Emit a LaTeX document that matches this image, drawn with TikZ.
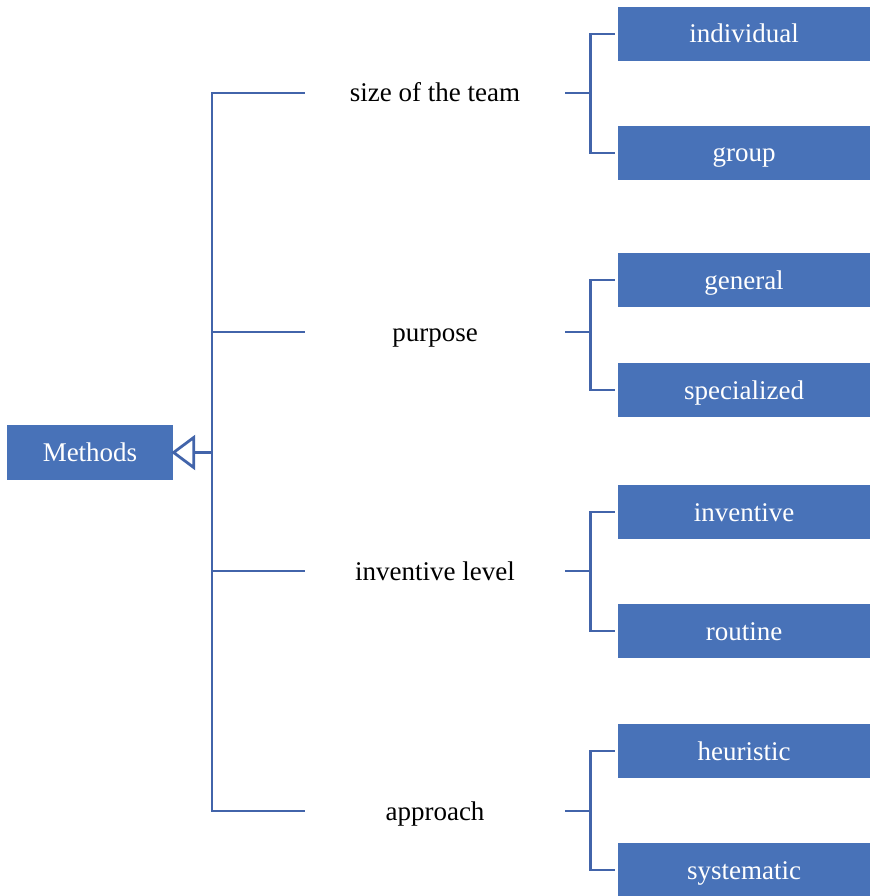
\documentclass[tikz,border=0pt]{standalone}
\usepackage{fontspec}
\setmainfont{Liberation Serif}
\usetikzlibrary{arrows.meta}
\definecolor{boxblue}{RGB}{72,114,184}
\definecolor{lineblue}{RGB}{66,100,170}
\begin{document}
\begin{tikzpicture}[x=1pt,y=-1pt,
  txt/.style={font=\fontsize{27}{31}\selectfont,text height=19pt,text depth=1pt,inner sep=0pt},
  leaf/.style={txt,fill=boxblue,draw=none,text=white,minimum width=252pt,minimum height=54pt},
  root/.style={txt,fill=boxblue,draw=none,text=white,minimum width=166pt,minimum height=55pt},
  lab/.style={txt,minimum width=260pt,minimum height=30pt},
  conn/.style={draw=lineblue,line width=2.8pt}]
\useasboundingbox (0,0) rectangle (870,896);
\node[root] (meth) at (90,452.5) {Methods};
\node[lab] (l1) at (435,93) {size of the team};
\node[lab] (l2) at (435,332) {purpose};
\node[lab] (l3) at (435,571) {inventive level};
\node[lab] (l4) at (435,811) {approach};
\node[leaf] (a1) at (744,34) {individual};
\node[leaf] (a2) at (744,153) {group};
\node[leaf] (b1) at (744,280) {general};
\node[leaf] (b2) at (744,390) {specialized};
\node[leaf] (c1) at (744,512) {inventive};
\node[leaf] (c2) at (744,631) {routine};
\node[leaf] (d1) at (744,751) {heuristic};
\node[leaf] (d2) at (744,870) {systematic};
\coordinate (tk) at (212,452.5);
\draw[conn] (l1.west) -| (tk) |- (l4.west);
\draw[conn] (l2.west) -- (l2.west -| tk);
\draw[conn] (l3.west) -- (l3.west -| tk);
\draw[conn,-{Triangle[open,length=24pt,width=35pt,line width=2.8pt]},shorten >=-2pt] (tk) -- (meth.east);
\foreach \l/\u/\d in {l1/a1/a2,l2/b1/b2,l3/c1/c2,l4/d1/d2}{
  \draw[conn,shorten >=3pt] (\l.east) -- ++(25,0) |- (\u.west);
  \draw[conn,shorten >=3pt] (\l.east) ++(25,0) |- (\d.west);
}
\end{tikzpicture}
\end{document}
